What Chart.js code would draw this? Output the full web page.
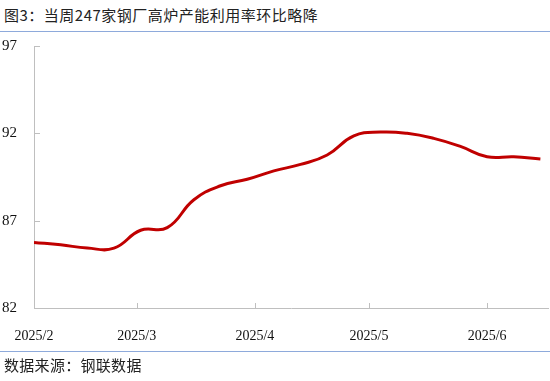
<!DOCTYPE html>
<html>
<head>
<meta charset="utf-8">
<script src="https://cdn.jsdelivr.net/npm/chart.js@4"></script>
<style>
html,body{margin:0;padding:0;background:#fff;}
#wrap{position:relative;width:550px;height:381px;overflow:hidden;}
#title{position:absolute;left:4px;top:5px;font-family:"Noto Sans CJK SC","Noto Sans",sans-serif;font-size:15px;color:#222;letter-spacing:0.5px;white-space:nowrap;line-height:20px;}
#src{position:absolute;left:4px;top:355px;font-family:"Noto Sans CJK SC","Noto Sans",sans-serif;font-size:15px;color:#222;letter-spacing:0.3px;white-space:nowrap;line-height:20px;}
.rule{position:absolute;left:0;width:550px;height:1px;background:#8eaadb;}
#c{position:absolute;left:0;top:0;}
</style>
</head>
<body>
<div id="wrap">
<div id="title">图3：当周247家钢厂高炉产能利用率环比略降</div>
<div class="rule" style="top:31px"></div>
<canvas id="c" width="550" height="381"></canvas>
<div class="rule" style="top:351px"></div>
<div id="src">数据来源：钢联数据</div>
</div>
<script>
// weekly observations: days after 2025-02-02
const weekDays = [0,7,14,21,28,35,42,49,56,63,70,77,84,91,98,105,112,119,126,133];
const utilization = [85.75,85.62,85.43,85.43,86.45,86.6,88.2,89.0,89.37,89.85,90.22,90.76,91.85,92.07,92.0,91.71,91.25,90.66,90.66,90.53];
// month-start tick positions (days after 2025-02-02) and labels
const monthTicks = [0,27,58,88,119];
const monthLabels = ['2025/2','2025/3','2025/4','2025/5','2025/6'];
const yTicks = [82,87,92,97];

const axisColor = '#bfbfbf';

const innerTicks = {
  id:'innerTicks',
  afterDatasetsDraw(chart){
    const ctx = chart.ctx, xs = chart.scales.x, ys = chart.scales.y;
    ctx.save();
    ctx.strokeStyle = axisColor; ctx.lineWidth = 1;
    ctx.beginPath();
    yTicks.forEach(v=>{ if(v===82) return; const y = Math.round(ys.getPixelForValue(v))+0.5; ctx.moveTo(xs.left, y); ctx.lineTo(xs.left+6, y); });
    monthTicks.forEach(d=>{ if(d===0) return; const x = Math.round(xs.getPixelForValue(d))+0.5; ctx.moveTo(x, ys.bottom); ctx.lineTo(x, ys.bottom-5); });
    ctx.stroke();
    ctx.restore();
  }
};

new Chart(document.getElementById('c'), {
  type:'line',
  data:{
    datasets:[{
      data: weekDays.map((d,i)=>({x:d,y:utilization[i]})),
      borderColor:'#c00000',
      borderWidth:3,
      pointRadius:0,
      tension:0.45,
      fill:false
    }]
  },
  options:{
    responsive:false,
    animation:false,
    layout:{padding:{top:46,right:2,bottom:0,left:0}},
    plugins:{legend:{display:false},tooltip:{enabled:false}},
    scales:{
      x:{
        type:'linear', min:0, max:135,
        afterBuildTicks(s){ s.ticks = monthTicks.map(v=>({value:v})); },
        afterFit(s){ s.height = 73; },
        grid:{display:false},
        border:{display:true,color:axisColor,width:1},
        ticks:{
          autoSkip:false, maxRotation:0, padding:12,
          color:'#111',
          font:{family:'"Liberation Serif","Times New Roman",serif',size:14},
          callback(v){ const i = monthTicks.indexOf(v); return i>=0?monthLabels[i]:''; }
        }
      },
      y:{
        min:82, max:97,
        afterBuildTicks(s){ s.ticks = yTicks.map(v=>({value:v})); },
        afterFit(s){ s.width = 34; },
        grid:{display:false},
        border:{display:true,color:axisColor,width:1},
        ticks:{
          padding:9, color:'#111',
          font:{family:'"Liberation Serif","Times New Roman",serif',size:15}
        }
      }
    }
  },
  plugins:[innerTicks]
});
</script>
</body>
</html>
